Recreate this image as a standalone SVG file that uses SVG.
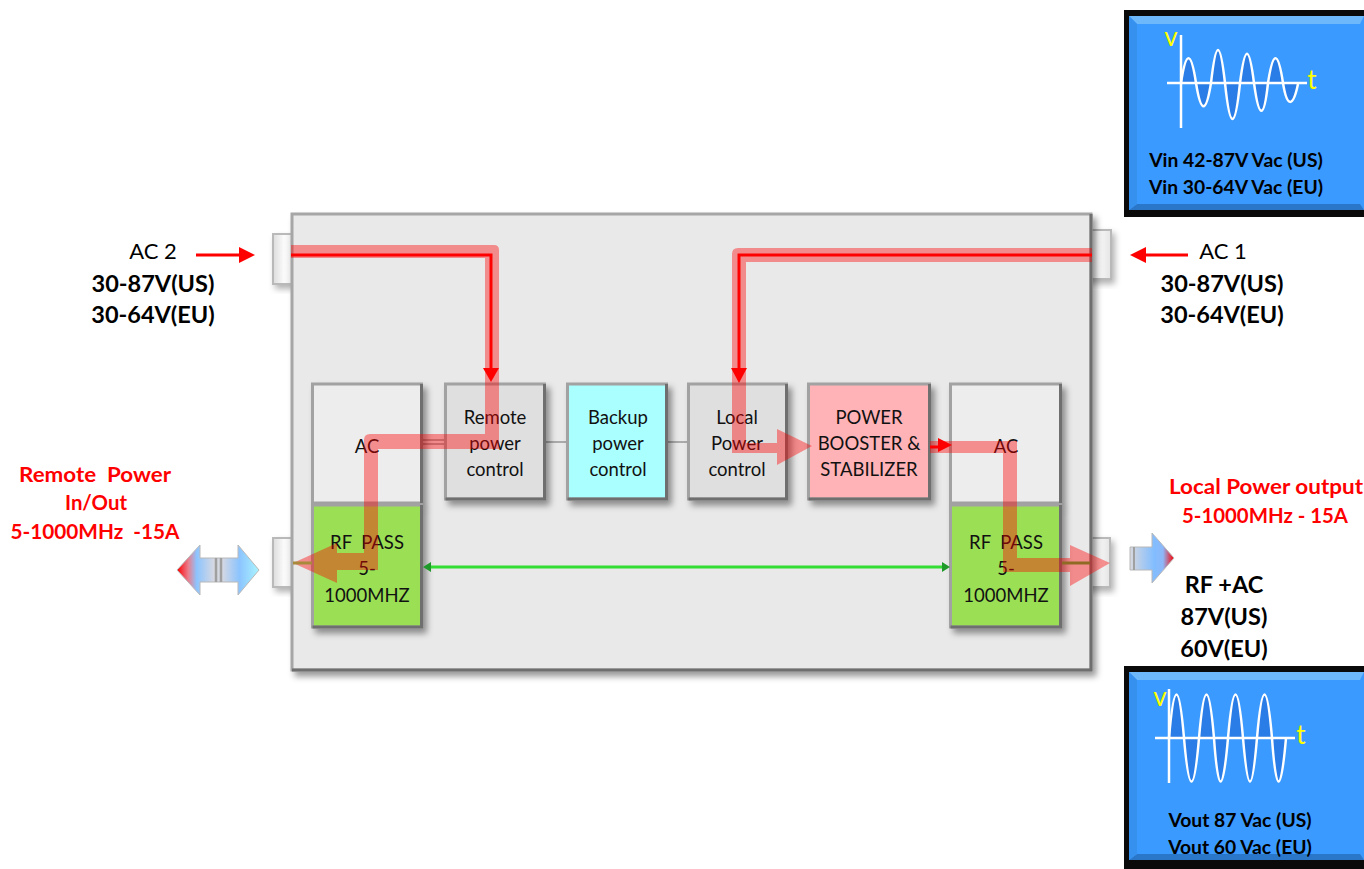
<svg xmlns="http://www.w3.org/2000/svg" width="1364" height="869" viewBox="0 0 1364 869">
<style>
text{font-family:Lato,"Liberation Sans",sans-serif;text-anchor:middle;white-space:pre}
.n{font-size:18.5px;fill:#111}
.b{font-size:23.5px;font-weight:700;fill:#000}
.a{font-size:22px;fill:#000}
.r{font-size:21px;font-weight:700;fill:#f00}
.s{font-size:19.300px;font-weight:700;fill:#000}
.y{font-size:26px;fill:#ff0}
.box{stroke:#a2a2a2;stroke-width:3;filter:url(#sh)}
.edge{fill:none;stroke:#6f6f6f;stroke-width:3}
.port{fill:url(#pf);stroke:#b9b9b9;stroke-width:2;filter:url(#sh2)}
.fat{fill:#f00;fill-opacity:.4}
.thin{fill:none;stroke:#f00;stroke-width:3}
.hd{fill:#f00}
.wire{stroke:#aaa;stroke-width:2;fill:none}
.wave{fill:#2a7de6;stroke:#fff;stroke-width:2.5}
.ax{stroke:#fff;stroke-width:2.5;fill:none}
</style>
<defs>
<filter id="sh" x="-15%" y="-15%" width="135%" height="135%"><feDropShadow dx="4" dy="5" stdDeviation="3" flood-color="#000" flood-opacity=".4"/></filter>
<filter id="sh2" x="-60%" y="-20%" width="220%" height="140%"><feDropShadow dx="3" dy="4" stdDeviation="3" flood-color="#000" flood-opacity=".3"/></filter>
<linearGradient id="pf" x1="0" x2="1" y1="0" y2="0"><stop offset="0" stop-color="#dcdcdc"/><stop offset=".5" stop-color="#fbfbfb"/><stop offset="1" stop-color="#e4e4e4"/></linearGradient>
<linearGradient id="dbl" x1="0" x2="1" y1="0" y2="0">
<stop offset="0" stop-color="#f00"/><stop offset=".14" stop-color="#e8808f"/><stop offset=".24" stop-color="#8cc4ff"/><stop offset=".45" stop-color="#d6d8e2"/><stop offset=".55" stop-color="#d6d8e2"/><stop offset=".76" stop-color="#8cc4ff"/><stop offset="1" stop-color="#aaf4ff"/>
</linearGradient>
<linearGradient id="out" x1="0" x2="1" y1="0" y2="0">
<stop offset="0" stop-color="#d8d8de"/><stop offset=".55" stop-color="#82bdff"/><stop offset=".75" stop-color="#8cb8f8"/><stop offset="1" stop-color="#f00"/>
</linearGradient>
</defs>

<g id="port-ac2"><rect x="273" y="234" width="22" height="50" class="port"/></g>
<g id="port-ac1"><rect x="1085" y="230" width="26" height="49" class="port"/></g>
<g id="port-rf-left"><rect x="273" y="538" width="22" height="49" class="port"/></g>
<g id="port-rf-right"><rect x="1085" y="538" width="25" height="49" class="port"/></g>

<g id="enclosure">
<rect x="292" y="214" width="799" height="456" fill="#e9e9e9" stroke="#a6a6a6" stroke-width="3" filter="url(#sh)"/>
<path d="M1091 214V670H292" class="edge"/>
</g>

<g id="wires">
<path d="M545 442H567M667 442H688M423 440H445M423 444H445" class="wire"/>
</g>

<g id="ac-left"><rect x="312.500" y="384" width="109" height="119" fill="#ededed" class="box"/><path d="M421.500 384V503" class="edge"/><text x="367" y="453" class="n">AC</text></g>
<g id="rf-left"><rect x="312.500" y="505" width="109" height="122" fill="#9bdf55" class="box"/><path d="M421.500 505V627H312.500" class="edge"/><text x="367" y="549" class="n">RF  PASS</text><text x="367" y="575" class="n">5-</text><text x="367" y="602" class="n">1000MHZ</text></g>
<g id="remote"><rect x="445.500" y="384" width="99" height="115" fill="#dfdfdf" class="box"/><path d="M544.500 384V499H445.500" class="edge"/><text x="495" y="424" class="n">Remote</text><text x="495" y="450" class="n">power</text><text x="495" y="476" class="n">control</text></g>
<g id="backup"><rect x="567.500" y="384" width="99" height="115" fill="#aaffff" class="box"/><path d="M666.500 384V499H567.500" class="edge"/><text x="618" y="424" class="n">Backup</text><text x="618" y="450" class="n">power</text><text x="618" y="476" class="n">control</text></g>
<g id="local"><rect x="688.500" y="384" width="98" height="115" fill="#dfdfdf" class="box"/><path d="M786.500 384V499H688.500" class="edge"/><text x="737" y="424" class="n">Local</text><text x="737" y="450" class="n">Power</text><text x="737" y="476" class="n">control</text></g>
<g id="booster"><rect x="808.500" y="384" width="121" height="115" fill="#ffb3b7" class="box"/><path d="M929.500 384V499H808.500" class="edge"/><text x="869" y="424" class="n">POWER</text><text x="869" y="450" class="n">BOOSTER &amp;</text><text x="869" y="476" class="n">STABILIZER</text></g>
<g id="ac-right"><rect x="950.500" y="384" width="110" height="119" fill="#ededed" class="box"/><path d="M1060.500 384V503" class="edge"/><text x="1006" y="453" class="n">AC</text></g>
<g id="rf-right"><rect x="950.500" y="505" width="110" height="122" fill="#9bdf55" class="box"/><path d="M1060.500 505V627H950.500" class="edge"/><text x="1006" y="549" class="n">RF  PASS</text><text x="1006" y="575" class="n">5-</text><text x="1006" y="602" class="n">1000MHZ</text></g>

<g id="connectors">
<path class="fat" d="M291 245H494Q499 245 499 250V449H378V570H337V583L293 563L337 543V553H364V440Q364 434 370 434H485V258H291Z"/>
<path class="fat" d="M1092 248H738Q732 248 732 254V453H777V465L812 446L777 429V443H746V262H1092Z"/>
<path class="fat" d="M930 441H1017V558H1070V545L1110 563L1070 586V572H1003V453H930Z"/>
<path class="thin" d="M291 255H491V370"/><path class="hd" d="M483 368H499L491 382Z"/>
<path class="thin" d="M1092 255H739V370"/><path class="hd" d="M731 368H747L739 383Z"/>
<path class="thin" d="M930 447H940"/><path class="hd" d="M938 438L952 445L938 452Z"/>
<path d="M293 563H312" stroke="#a88a3a" stroke-width="3" fill="none"/>
<path d="M1062 563H1090" stroke="#8f6a25" stroke-width="3" fill="none"/>
<path d="M430 567H944" stroke="#33dd33" stroke-width="3" fill="none"/>
<path d="M423 567L431 562V572Z" fill="#1f9a2a"/><path d="M950 567L942 562V572Z" fill="#1f9a2a"/>
<path class="thin" d="M196 255H242"/><path class="hd" d="M239 247L255 255L239 263Z"/>
<path class="thin" d="M1188 255H1144"/><path class="hd" d="M1146 247L1130 255L1146 263Z"/>
</g>

<g id="arrow-remote">
<path d="M177 570L200 545V558H238V545L259 570L238 595V582H200V595Z" fill="url(#dbl)" stroke="#b8b8b8" stroke-width="1"/>
<path d="M216 558V582M221 558V582" stroke="#a0a0a0" stroke-width="2.500"/>
</g>
<g id="arrow-local">
<path d="M1130 547H1152V533L1174 558L1152 583V570H1130Z" fill="url(#out)" stroke="#b8b8b8" stroke-width="1"/>
<path d="M1134 547V570" stroke="#a0a0a0" stroke-width="2"/>
</g>

<g id="label-ac2"><text x="153" y="259" class="a">AC 2</text><text x="153" y="292" class="b">30-87V(US)</text><text x="153" y="323" class="b">30-64V(EU)</text></g>
<g id="label-ac1"><text x="1223" y="259" class="a">AC 1</text><text x="1222" y="292" class="b">30-87V(US)</text><text x="1222" y="323" class="b">30-64V(EU)</text></g>
<g id="label-remote"><text x="95" y="482" class="r" textLength="152" lengthAdjust="spacingAndGlyphs">Remote  Power</text><text x="96" y="510" class="r" textLength="62" lengthAdjust="spacingAndGlyphs">In/Out</text><text x="95" y="539" class="r" textLength="169" lengthAdjust="spacingAndGlyphs">5-1000MHz  -15A</text></g>
<g id="label-local"><text x="1266" y="494" class="r" textLength="194" lengthAdjust="spacingAndGlyphs">Local Power output</text><text x="1265" y="523" class="r" textLength="166" lengthAdjust="spacingAndGlyphs">5-1000MHz - 15A</text></g>
<g id="label-output"><text x="1224" y="593" class="b">RF +AC</text><text x="1224" y="625" class="b">87V(US)</text><text x="1224" y="657" class="b">60V(EU)</text></g>

<g id="scope-in">
<rect x="1124" y="10" width="240" height="207" fill="#0a0a0a"/>
<rect x="1129" y="16" width="235" height="194" fill="#3b9aff"/>
<path d="M1129 16H1364L1360 24H1137Z" fill="#6cb8fb"/>
<path d="M1129 210H1364L1360 204H1137Z" fill="#2a76c8"/>
<path d="M1129 16L1137 24V204L1129 210Z" fill="#3590ee"/>
<path class="wave" d="M1181 83C1186 50 1191 50 1196 83C1201 114 1206 114 1211 83C1216 39 1220 39 1225 83C1230 131 1235 131 1240 83C1245 44 1249 44 1254 83C1259 120 1264 120 1268 83C1273 50 1278 50 1283 83C1287 108 1293 108 1298 84"/>
<path class="ax" d="M1181 35V128M1167 83H1307"/>
<text x="1171" y="46" class="y">v</text><text x="1312" y="89" class="y">t</text>
<text x="1236" y="167" class="s">Vin 42-87V Vac (US)</text><text x="1236" y="194" class="s">Vin 30-64V Vac (EU)</text>
</g>
<g id="scope-out">
<rect x="1124" y="666" width="240" height="203" fill="#0a0a0a"/>
<rect x="1129" y="672" width="235" height="188" fill="#3b9aff"/>
<path d="M1129 672H1364L1360 680H1137Z" fill="#6cb8fb"/>
<path d="M1129 860H1364L1360 854H1137Z" fill="#2a76c8"/>
<path d="M1129 672L1137 680V854L1129 860Z" fill="#3590ee"/>
<path class="wave" d="M1169 738C1174 680 1179 680 1184 738C1189 796 1194 796 1199 738C1204 680 1209 680 1214 738C1218 796 1223 796 1228 738C1233 680 1238 680 1243 738C1248 796 1252 796 1257 738C1262 680 1267 680 1272 738C1276 796 1281 796 1286 738"/>
<path class="ax" d="M1169 689V783M1155 738H1295"/>
<text x="1160" y="706" class="y">v</text><text x="1301" y="744" class="y">t</text>
<text x="1240" y="827" class="s">Vout 87 Vac (US)</text><text x="1240" y="854" class="s">Vout 60 Vac (EU)</text>
</g>
</svg>
